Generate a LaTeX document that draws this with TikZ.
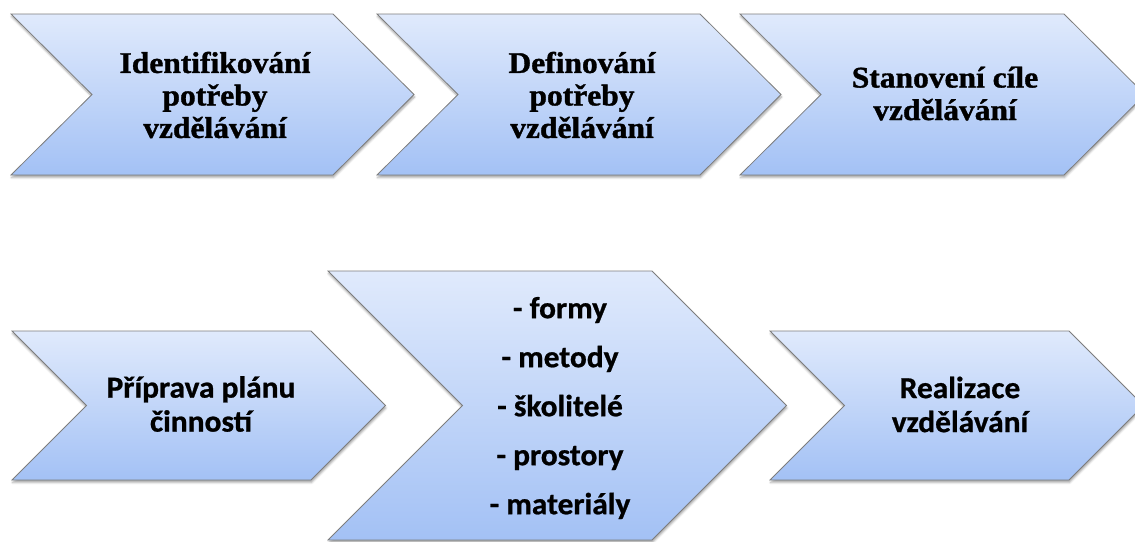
\documentclass[tikz,border=0pt]{standalone}
\usepackage{fontspec}
\usetikzlibrary{shadows.blur}
\newfontfamily\serifb[FakeStretch=1.05,FakeBold=1.2]{Liberation Serif}
\newfontfamily\calb[FakeStretch=1.03,FakeBold=0.8]{Carlito}
\definecolor{chevtop}{RGB}{224,234,252}
\definecolor{chevbot}{RGB}{163,193,245}
\definecolor{chevline}{RGB}{125,125,125}
\tikzset{
  chev/.style={draw=chevline, line width=0.8pt, line join=miter,
    top color=chevtop, bottom color=chevbot,
    blur shadow={shadow xshift=0.5pt, shadow yshift=-2.5pt, shadow blur radius=2pt, shadow opacity=35}},
  toplabel/.style={align=center, inner sep=0pt, font={\serifb\bfseries\fontsize{30}{32.5}\selectfont}},
  botlabel/.style={align=center, inner sep=0pt, font={\calb\bfseries\fontsize{30.5}{34}\selectfont}},
  listlabel/.style={align=center, inner sep=0pt, font={\calb\bfseries\fontsize{30.5}{49}\selectfont}}
}
\begin{document}
\begin{tikzpicture}[x=1pt, y=-1pt]
\useasboundingbox (0,0) rectangle (1135,541);
% top row
\path[chev] (11,14) -- (333,14) -- (414,94.5) -- (333,175) -- (11,175) -- (92,94.5) -- cycle;
\path[chev] (377,14) -- (700,14) -- (781,94.5) -- (700,175) -- (377,175) -- (458,94.5) -- cycle;
\path[chev] (740,14) -- (1064,14) -- (1145,94.5) -- (1064,175) -- (740,175) -- (821,94.5) -- cycle;
% bottom row
\path[chev] (12,331) -- (311,331) -- (385.5,405.5) -- (311,480) -- (12,480) -- (86.5,405.5) -- cycle;
\path[chev] (328,271) -- (652,271) -- (786.5,405.5) -- (652,540) -- (328,540) -- (462.5,405.5) -- cycle;
\path[chev] (770,331) -- (1069,331) -- (1143.5,405.5) -- (1069,480) -- (770,480) -- (844.5,405.5) -- cycle;
% labels
\node[toplabel] (t1) at (215,95) {Identifikování\\potřeby\\vzdělávání};
\node[toplabel] (t2) at (582,95) {Definování\\potřeby\\vzdělávání};
\node[toplabel] (t3) at (945,93.5) {Stanovení cíle\\vzdělávání};
\node[botlabel] (b1) at (201,404) {Příprava plánu\\činností};
\node[listlabel] (b2) at (560,408) {- formy\\- metody\\- školitelé\\- prostory\\- materiály};
\node[botlabel] (b3) at (960,404.5) {Realizace\\vzdělávání};
\end{tikzpicture}
\end{document}
